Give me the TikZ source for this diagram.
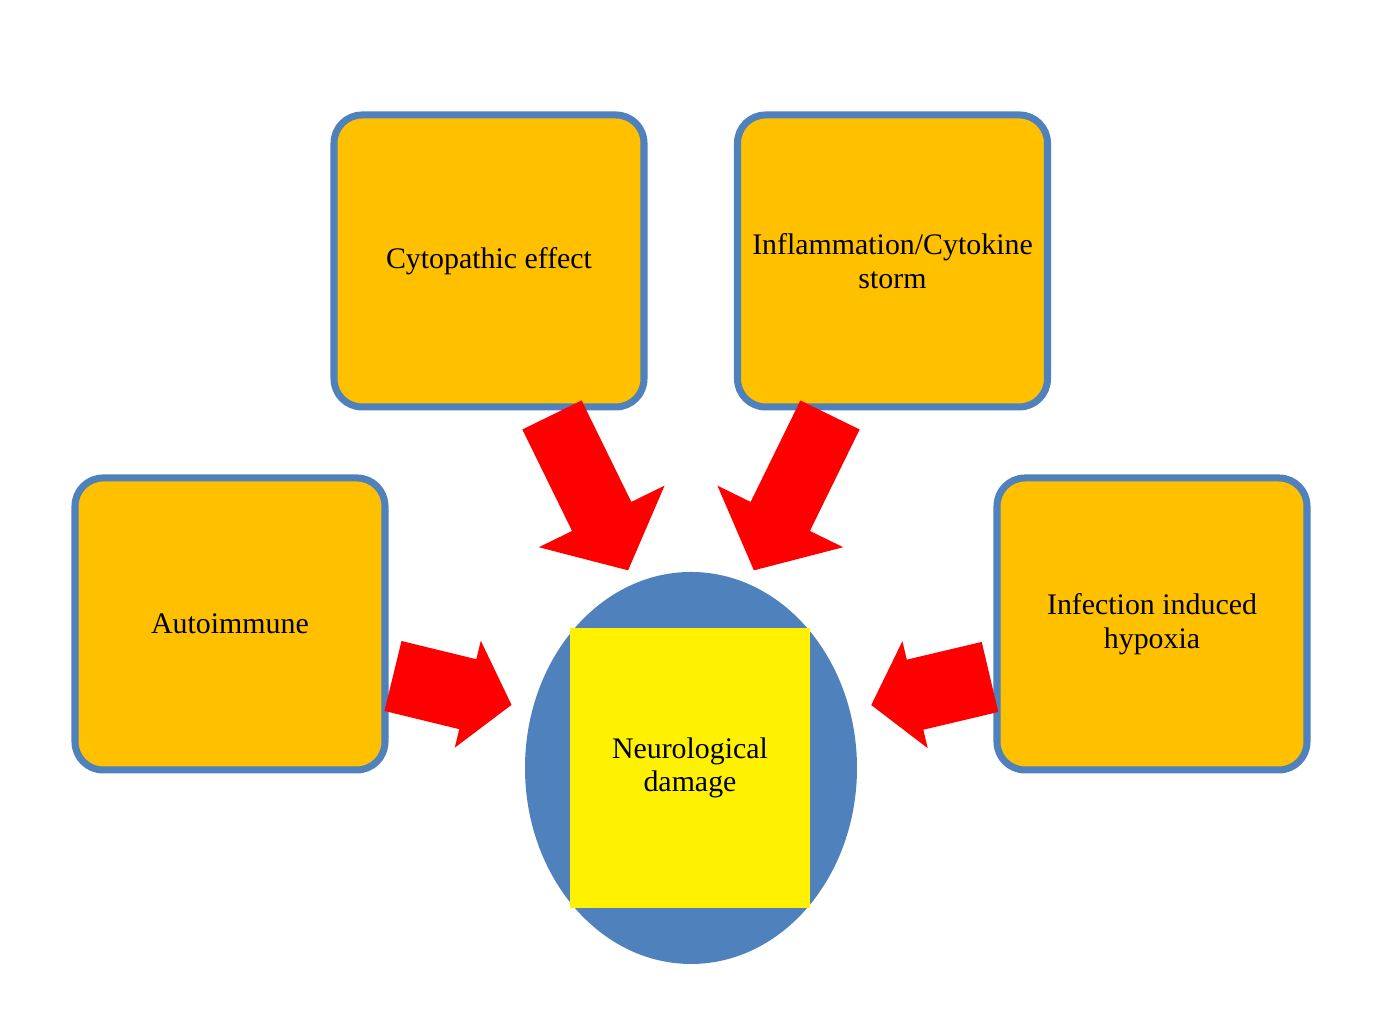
\documentclass[tikz,border=0pt]{standalone}
\usepackage{fontspec}
\setmainfont{Liberation Serif}
\usetikzlibrary{shapes.geometric}
\definecolor{boxorange}{HTML}{FFC000}
\definecolor{boxblue}{HTML}{4F81BD}
\begin{document}
\begin{tikzpicture}[cause box/.style={rectangle,rounded corners=8pt,fill=boxorange,draw=boxblue,line width=2pt,minimum width=3.1cm,minimum height=2.92cm,align=center,font=\fontsize{8.5}{9.6}\selectfont},
  % block arrow: tail coordinate, angle, length, shaft half width, head half width, head length
  pics/bigarrow/.style n args={4}{code={\fill[red] (0,-#2)--(#1-#4,-#2)--(#1-#4,-#3)--(#1,0)--(#1-#4,#3)--(#1-#4,#2)--(0,#2)--cycle;}}]
\useasboundingbox (0,0) rectangle (13.93,10.26);

\node[cause box] (cyto) at (4.89,7.65) {Cytopathic effect};
\node[cause box] (infl) at (8.925,7.65) {Inflammation/Cytokine\\storm};
\node[cause box] (auto) at (2.30,4.02) {Autoimmune};
\node[cause box] (hypo) at (11.52,4.02) {Infection induced\\hypoxia};

\node[ellipse,fill=boxblue,minimum width=3.32cm,minimum height=3.92cm] (brain) at (6.91,2.58) {};
\node[rectangle,fill=yellow,minimum width=2.4cm,minimum height=2.8cm,align=center,font=\fontsize{8.5}{9.6}\selectfont] (damage) at (6.90,2.58) {Neurological\\damage};

\coordinate (t1) at (5.52,6.11);
\coordinate (t2) at (8.30,6.11);
\coordinate (t3) at (3.93,3.50);
\coordinate (t4) at (9.90,3.49);

\pic[shift={(t1)},rotate=-63.9] {bigarrow={1.73}{0.33}{0.70}{0.60}};
\pic[shift={(t2)},rotate=-116.1] {bigarrow={1.73}{0.33}{0.70}{0.60}};
\pic[shift={(t3)},rotate=-13.7] {bigarrow={1.22}{0.36}{0.55}{0.45}};
\pic[shift={(t4)},rotate=193.3] {bigarrow={1.22}{0.36}{0.55}{0.45}};

\end{tikzpicture}
\end{document}
